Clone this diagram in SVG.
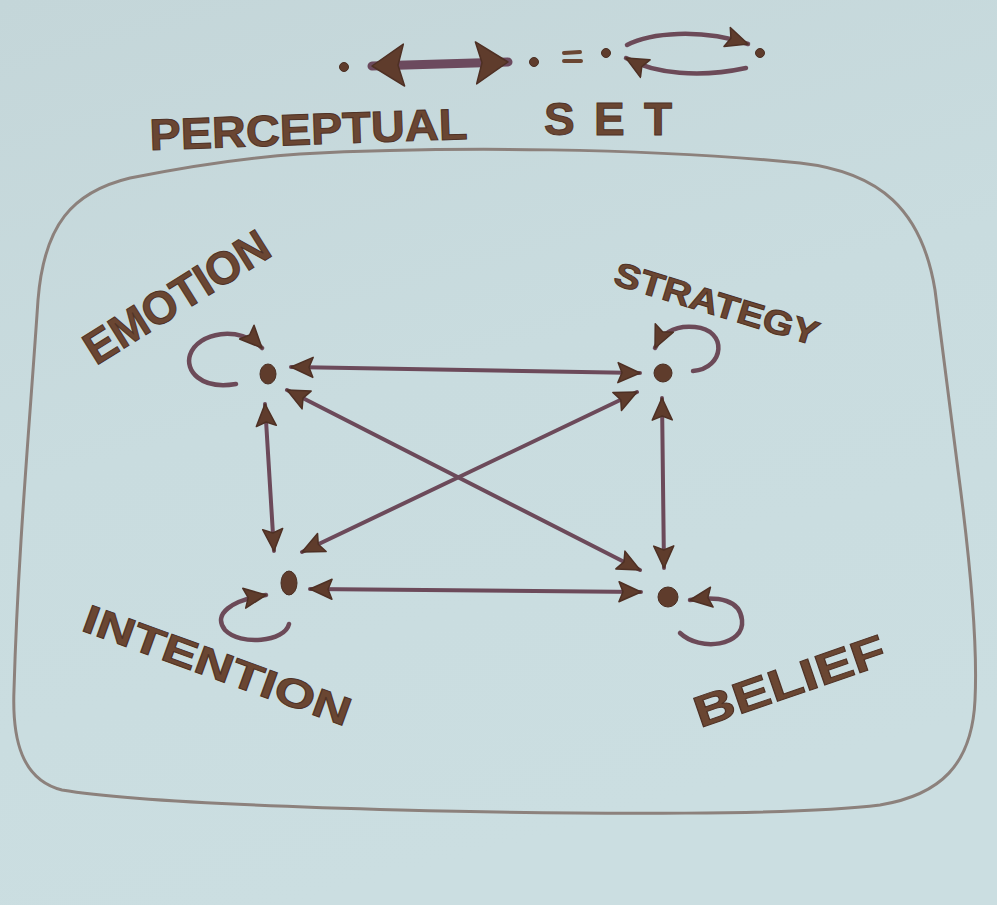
<svg xmlns="http://www.w3.org/2000/svg" width="997" height="905" viewBox="0 0 997 905">
  <defs>
    <linearGradient id="bg" x1="0" y1="0" x2="0.3" y2="1">
      <stop offset="0" stop-color="#c4d6d9"/>
      <stop offset="0.5" stop-color="#c9dcdf"/>
      <stop offset="1" stop-color="#cbdee1"/>
    </linearGradient>
    <marker id="ah" viewBox="-1 -12 26 24" refX="22" refY="0" markerWidth="26" markerHeight="24" markerUnits="userSpaceOnUse" orient="auto-start-reverse">
      <path d="M0,-10 L22,0 L0,10 L4,0 Z" fill="#5f3c2c" stroke="#4e3024" stroke-width="1.5" stroke-linejoin="round"/>
    </marker>
    <marker id="ahBig" viewBox="-1 -24 36 48" refX="32" refY="0" markerWidth="36" markerHeight="48" markerUnits="userSpaceOnUse" orient="auto-start-reverse">
      <path d="M0,-21 L32,0 L0,21 L6,0 Z" fill="#5f3c2c" stroke="#4e3024" stroke-width="1.5" stroke-linejoin="round"/>
    </marker>
    <style>
      .ink { font-family: "Liberation Sans", "DejaVu Sans", sans-serif; font-weight: bold; fill: #6a4632; stroke: #4f3226; stroke-width: 1; }
      .edge { fill: none; stroke: #6c4a5a; stroke-width: 4; stroke-linecap: round; marker-start: url(#ah); marker-end: url(#ah); }
      .loop { fill: none; stroke: #6c4a58; stroke-width: 4.5; stroke-linecap: round; marker-end: url(#ah); }
      .dot { fill: #5f3c2c; stroke: #4a2e22; stroke-width: 1; }
    </style>
  </defs>
  <rect width="997" height="905" fill="url(#bg)"/>

  <!-- legend -->
  <g id="legend">
    <circle class="dot" cx="344" cy="67" r="4.5"/>
    <path d="M372,66 L508,62" fill="none" stroke="#6c4a5e" stroke-width="9" stroke-linecap="round" marker-start="url(#ahBig)" marker-end="url(#ahBig)"/>
    <circle class="dot" cx="534" cy="62" r="4.5"/>
    <path d="M564,53 L580,52 M564,61 L581,61" stroke="#6a4632" stroke-width="4" stroke-linecap="round"/>
    <circle class="dot" cx="606" cy="53" r="4.5"/>
    <path d="M627,45 C650,33 700,28 748,44" class="loop" stroke-width="4"/>
    <path d="M746,68 C700,78 655,74 626,58" class="loop" stroke-width="4"/>
    <circle class="dot" cx="760" cy="53" r="4.5"/>
  </g>

  <!-- title -->
  <g id="title">
    <text class="ink" x="150" y="150" font-size="44" textLength="318" lengthAdjust="spacingAndGlyphs" transform="rotate(-2 150 150)">PERCEPTUAL</text>
    <text class="ink" x="544" y="135" font-size="46" textLength="138" lengthAdjust="spacing" letter-spacing="10">SET</text>
  </g>

  <!-- frame -->
  <path id="frame" d="M300,154 C450,146 650,148 800,163 C880,172 922,210 935,290 L958,470 C970,560 978,640 975,700 C972,765 940,795 880,805 C800,815 600,815 400,810 C250,806 120,800 62,790 C22,780 12,740 14,690 C18,550 30,420 38,300 C44,225 72,192 130,178 C190,166 240,158 300,154 Z" fill="none" stroke="#8c817c" stroke-width="3"/>

  <!-- connectors -->
  <g id="connectors">
    <path class="edge" d="M291,367 L640,373"/>
    <path class="edge" d="M265,404 L274,551"/>
    <path class="edge" d="M662,398 L664,568"/>
    <path class="edge" d="M310,589 L641,592"/>
    <path class="edge" d="M287,390 L640,570"/>
    <path class="edge" d="M637,392 L302,552"/>
    <path class="loop" d="M236,384 C200,390 185,370 190,355 C198,332 240,325 262,348"/>
    <path class="loop" d="M693,371 C725,368 728,330 695,327 C675,325 662,333 655,348"/>
    <path class="loop" d="M289,624 C285,642 240,646 225,630 C212,614 232,600 266,595"/>
    <path class="loop" d="M680,633 C700,652 745,646 742,620 C740,600 720,596 690,600"/>
  </g>

  <!-- nodes -->
  <g id="emotion">
    <ellipse class="dot" cx="268" cy="374" rx="8" ry="10"/>
    <text class="ink" x="96" y="366" font-size="46" textLength="210" lengthAdjust="spacingAndGlyphs" transform="rotate(-32 96 366)">EMOTION</text>
  </g>
  <g id="strategy">
    <ellipse class="dot" cx="663" cy="373" rx="9" ry="9"/>
    <text class="ink" x="612" y="284" font-size="34" textLength="212" lengthAdjust="spacingAndGlyphs" transform="rotate(17 612 284)">STRATEGY</text>
  </g>
  <g id="intention">
    <ellipse class="dot" cx="289" cy="583" rx="8" ry="12"/>
    <text class="ink" x="80" y="630" font-size="40" textLength="282" lengthAdjust="spacingAndGlyphs" transform="rotate(20 80 630)">INTENTION</text>
  </g>
  <g id="belief">
    <ellipse class="dot" cx="668" cy="597" rx="10" ry="10"/>
    <text class="ink" x="700" y="728" font-size="44" textLength="200" lengthAdjust="spacingAndGlyphs" transform="rotate(-19 700 728)">BELIEF</text>
  </g>
</svg>
